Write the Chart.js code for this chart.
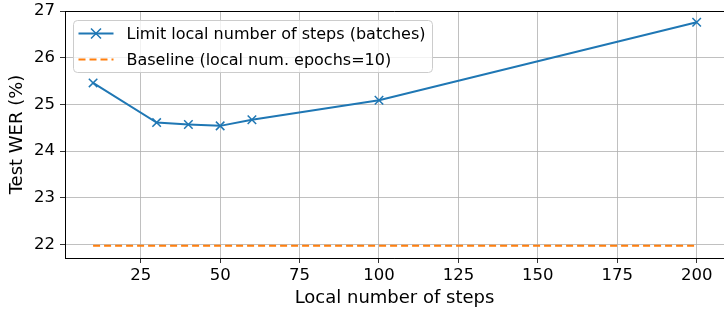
<!DOCTYPE html>
<html>
<head>
<meta charset="utf-8">
<script src="https://cdn.jsdelivr.net/npm/chart.js@4.4.1/dist/chart.umd.min.js"></script>
<style>
  html, body { margin: 0; padding: 0; background: #fff; overflow: hidden; }
  canvas { display: block; }
</style>
</head>
<body>
<canvas id="chart" width="724" height="309"></canvas>
<script>
// data
const steps = [10, 30, 40, 50, 60, 100, 200];
const wer = [25.46, 24.61, 24.57, 24.54, 24.67, 25.09, 26.76];
const baselineX = [10, 200];
const baselineWer = [21.97, 21.97];
const xTicks = [25, 50, 75, 100, 125, 150, 175, 200];
const yTicks = [22, 23, 24, 25, 26, 27];

const labelLimit = 'Limit local number of steps (batches)';
const labelBase = 'Baseline (local num. epochs=10)';

const FONT = 'DejaVu Sans';

// matplotlib style legend box inside the axes, plus the top spine
const legendBox = {
  id: 'legendBox',
  afterDatasetsDraw(chart) {
    const ctx = chart.ctx;
    const a = chart.chartArea;

    ctx.save();
    ctx.strokeStyle = '#000';
    ctx.lineWidth = 1;
    ctx.beginPath();
    ctx.moveTo(a.left, a.top + 0.5);
    ctx.lineTo(a.right, a.top + 0.5);
    ctx.stroke();

    const x = a.left + 8.5, y = a.top + 9.5, w = 359, h = 52;
    ctx.beginPath();
    ctx.roundRect(x, y, w, h, 4);
    ctx.fillStyle = 'rgba(255,255,255,0.8)';
    ctx.fill();
    ctx.strokeStyle = '#cccccc';
    ctx.lineWidth = 1;
    ctx.stroke();

    ctx.font = '16px "' + FONT + '"';
    ctx.textBaseline = 'middle';
    ctx.fillStyle = '#000';

    // row 1
    let ry = y + 13;
    ctx.strokeStyle = '#1f77b4';
    ctx.lineWidth = 2;
    ctx.beginPath();
    ctx.moveTo(x + 5, ry); ctx.lineTo(x + 40, ry);
    ctx.stroke();
    ctx.beginPath();
    ctx.moveTo(x + 17.5, ry - 5); ctx.lineTo(x + 27.5, ry + 5);
    ctx.moveTo(x + 17.5, ry + 5); ctx.lineTo(x + 27.5, ry - 5);
    ctx.lineWidth = 1.5;
    ctx.stroke();
    ctx.fillText(labelLimit, x + 53, ry + 1);

    // row 2
    ry = y + 39;
    ctx.strokeStyle = '#ff7f0e';
    ctx.lineWidth = 2;
    ctx.setLineDash([7, 4]);
    ctx.beginPath();
    ctx.moveTo(x + 5, ry); ctx.lineTo(x + 40, ry);
    ctx.stroke();
    ctx.setLineDash([]);
    ctx.fillText(labelBase, x + 53, ry + 1);
    ctx.restore();
  }
};

new Chart(document.getElementById('chart'), {
  type: 'line',
  data: {
    datasets: [
      {
        label: labelLimit,
        data: steps.map((s, i) => ({x: s, y: wer[i]})),
        borderColor: '#1f77b4',
        backgroundColor: '#1f77b4',
        borderWidth: 2,
        pointStyle: 'crossRot',
        pointRadius: 6,
        pointBorderWidth: 1.5,
        tension: 0
      },
      {
        label: labelBase,
        data: baselineX.map((s, i) => ({x: s, y: baselineWer[i]})),
        borderColor: '#ff7f0e',
        backgroundColor: '#ff7f0e',
        borderWidth: 2,
        borderDash: [7, 4],
        pointRadius: 0,
        tension: 0
      }
    ]
  },
  options: {
    responsive: false,
    animation: false,
    layout: { autoPadding: false, padding: { top: 11, right: 0, left: 7, bottom: 0 } },
    plugins: {
      legend: { display: false },
      tooltip: { enabled: false }
    },
    scales: {
      x: {
        type: 'linear',
        min: 1.16,
        max: 208.6,
        afterBuildTicks: (scale) => { scale.ticks = xTicks.map(v => ({value: v})); },
        afterFit: (scale) => {
          scale.height = 51;
          scale.paddingLeft = 0;
          scale.paddingRight = 0;
        },
        ticks: {
          color: '#000',
          font: { family: FONT, size: 16.5 },
          padding: 3,
          maxRotation: 0
        },
        grid: { color: '#b0b0b0', lineWidth: 0.8, tickLength: 5, tickColor: '#000' },
        border: { color: '#000', width: 1 },
        title: {
          display: true,
          text: 'Local number of steps',
          color: '#000',
          font: { family: FONT, size: 18 },
          padding: { top: 0, bottom: 0 }
        }
      },
      y: {
        min: 21.71,
        max: 27.0,
        afterBuildTicks: (scale) => { scale.ticks = yTicks.map(v => ({value: v})); },
        afterFit: (scale) => {
          scale.width = 58;
          scale.paddingTop = 0;
          scale.paddingBottom = 0;
        },
        ticks: {
          color: '#000',
          font: { family: FONT, size: 16.5 },
          padding: 5
        },
        grid: { color: '#b0b0b0', lineWidth: 0.8, tickLength: 5, tickColor: '#000' },
        border: { color: '#000', width: 1 },
        title: {
          display: true,
          text: 'Test WER (%)',
          color: '#000',
          font: { family: FONT, size: 18 },
          padding: { top: 0, bottom: 2 }
        }
      }
    }
  },
  plugins: [legendBox]
});
</script>
</body>
</html>
